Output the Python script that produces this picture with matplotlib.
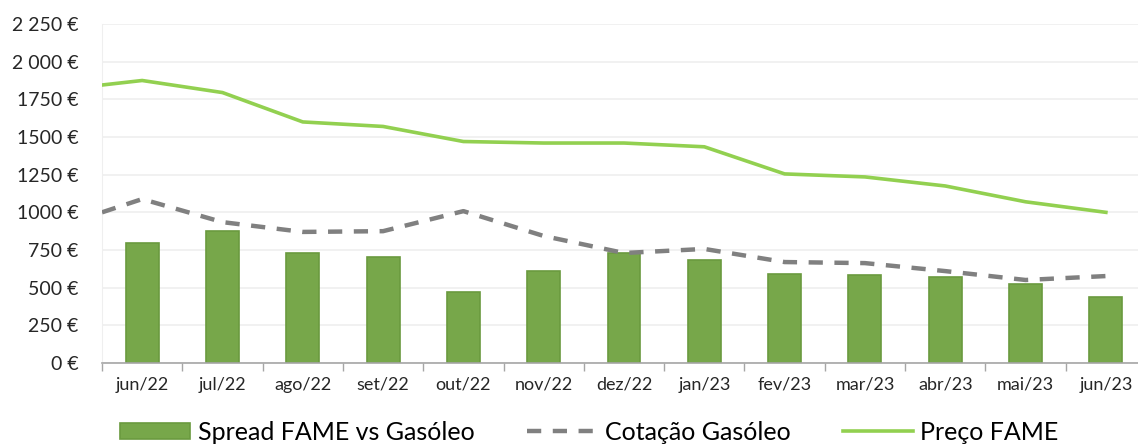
"""Spread FAME vs Gasóleo — monthly bars with price lines."""
import numpy as np
import matplotlib
matplotlib.use("Agg")
import matplotlib.pyplot as plt
from matplotlib.ticker import FuncFormatter, FixedLocator

plt.rcParams["font.family"] = ["Lato", "DejaVu Sans"]

months = ["jun/22", "jul/22", "ago/22", "set/22", "out/22", "nov/22", "dez/22",
          "jan/23", "fev/23", "mar/23", "abr/23", "mai/23", "jun/23"]
spread = [796, 876, 730, 703, 471, 610, 730, 683, 590, 584, 570, 524, 438]
# the lines carry one extra leading value, drawn at the left edge of the axis
cotacao_gasoleo = [1000, 1088, 935, 870, 875, 1008, 843, 730, 757, 670, 663, 610, 551, 577]
preco_fame = [1845, 1875, 1795, 1600, 1570, 1470, 1460, 1460, 1435, 1255, 1235, 1175, 1070, 1000]
yticks = [0, 250, 500, 750, 1000, 1250, 1500, 1750, 2000, 2250]

BAR = "#77A74A"
BAR_EDGE = "#6A9A3E"
FAME = "#92D050"
GASOLEO = "#808080"

fig = plt.figure(figsize=(11.38, 4.46), dpi=100)
ax = fig.add_axes([102 / 1138, 83 / 446, 1036 / 1138, 339 / 446])

x = np.arange(len(months))
x_lines = np.concatenate([[-0.5], x])

bars = ax.bar(x, spread, width=0.41, color=BAR, edgecolor=BAR_EDGE, lw=1.2,
              label="Spread FAME vs Gasóleo", zorder=2)
l_gas, = ax.plot(x_lines, cotacao_gasoleo, color=GASOLEO, lw=3.2, ls=(0, (3.2, 2.6)),
                 label="Cotação Gasóleo", zorder=3)
l_fame, = ax.plot(x_lines, preco_fame, color=FAME, lw=2.6, label="Preço FAME", zorder=3)

ax.set_xlim(-0.5, 12.4)
ax.set_ylim(0, 2250)
ax.set_yticks(yticks)


def euro(v, _):
    v = int(round(v))
    s = f"{v:,}".replace(",", " ") if v >= 2000 else str(v)
    return f"{s} €"


ax.yaxis.set_major_formatter(FuncFormatter(euro))
ax.set_xticks(x)
ax.set_xticklabels(months)
ax.xaxis.set_minor_locator(FixedLocator(np.arange(-0.5, 13, 1)))
ax.tick_params(axis="x", which="major", length=0, pad=10, labelsize=13, colors="#262626")
ax.tick_params(axis="x", which="minor", length=6, color="#A6A6A6", width=1)
ax.tick_params(axis="y", length=0, pad=17, labelsize=14, colors="#262626")

ax.grid(axis="y", color="#EFEFEF", lw=1.2, zorder=0)
ax.set_axisbelow(True)
for side in ("top", "right"):
    ax.spines[side].set_visible(False)
ax.spines["left"].set_color("#EFEFEF")
ax.spines["bottom"].set_color("#A6A6A6")
ax.spines["bottom"].set_linewidth(1.2)

fig.legend([bars, l_gas, l_fame],
           ["Spread FAME vs Gasóleo", "Cotação Gasóleo", "Preço FAME"],
           loc="lower center", bbox_to_anchor=(0.518, -0.045), ncol=3,
           frameon=False, fontsize=18, handlelength=2.8, columnspacing=2.1,
           handletextpad=0.3, handleheight=0.6)

fig.savefig("out.png", dpi=100)
